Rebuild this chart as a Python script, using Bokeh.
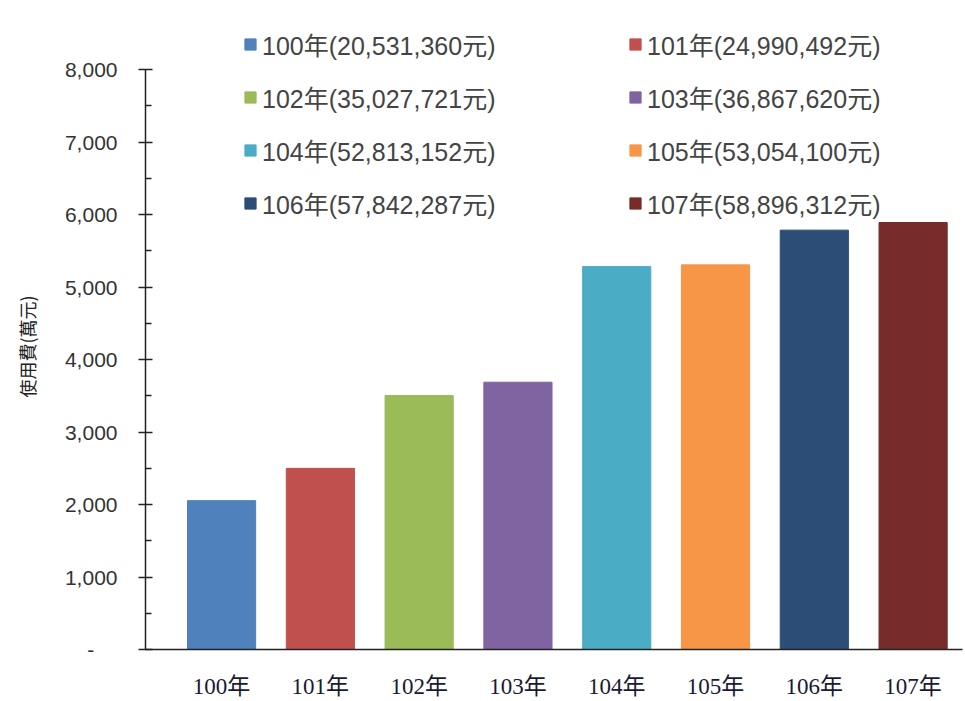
from bokeh.plotting import figure
from bokeh.models import (ColumnDataSource, Range1d, FixedTicker,
                          NumeralTickFormatter, Legend, LegendItem)
from bokeh.embed import file_html
from bokeh.resources import INLINE

years = ["100年", "101年", "102年", "103年", "104年", "105年", "106年", "107年"]
amounts_yuan = [20531360, 24990492, 35027721, 36867620, 52813152, 53054100, 57842287, 58896312]
amount_labels = ["20,531,360", "24,990,492", "35,027,721", "36,867,620",
                 "52,813,152", "53,054,100", "57,842,287", "58,896,312"]
colors = ["#4F81BD", "#C0504D", "#9BBB59", "#8064A2", "#4BACC6", "#F79646", "#2C4D75", "#772C2A"]
y_axis_title = "使用費(萬元)"
y_major_ticks = [0, 1000, 2000, 3000, 4000, 5000, 6000, 7000, 8000]
y_minor_ticks = [500, 1500, 2500, 3500, 4500, 5500, 6500, 7500]

values_wan = [a / 10000 for a in amounts_yuan]
idx = list(range(len(years)))

source = ColumnDataSource(dict(x=idx, top=values_wan, color=colors))

y_max = y_major_ticks[-1]
p = figure(width=965, height=701, output_backend="svg", toolbar_location=None,
           x_range=Range1d(-0.77, 7.5), y_range=Range1d(0, y_max + 607),
           min_border_left=145, min_border_right=3, min_border_top=25, min_border_bottom=52)
p.outline_line_color = None
p.xgrid.visible = False
p.ygrid.visible = False
p.background_fill_color = "white"
p.border_fill_color = "white"

r = p.vbar(x="x", top="top", width=0.69, bottom=0, color="color", source=source)

# y axis
ya = p.yaxis[0]
ya.ticker = FixedTicker(ticks=y_major_ticks, minor_ticks=y_minor_ticks)
ya.bounds = (0, y_max)
ya.formatter = NumeralTickFormatter(format="0,0")
ya.major_label_overrides = {0: "-\u2007\u2007"}
ya.major_tick_in = 7
ya.major_tick_out = 7
ya.minor_tick_in = 6
ya.minor_tick_out = 0
ya.axis_line_color = "#222222"
ya.axis_line_width = 1.5
ya.major_tick_line_color = "#222222"
ya.major_tick_line_width = 1.5
ya.minor_tick_line_color = "#222222"
ya.minor_tick_line_width = 1.5
ya.major_label_text_font = "Liberation Sans"
ya.major_label_text_font_size = "21px"
ya.major_label_text_color = "#333333"
ya.major_label_standoff = 21
ya.axis_label = y_axis_title + "\u3000"
ya.axis_label_text_font = "Noto Sans CJK TC"
ya.axis_label_text_font_size = "18px"
ya.axis_label_text_font_style = "normal"
ya.axis_label_text_color = "#222222"
ya.axis_label_standoff = 22

# x axis
xa = p.xaxis[0]
xa.ticker = FixedTicker(ticks=idx)
xa.major_label_overrides = {i: y for i, y in zip(idx, years)}
xa.major_tick_line_color = None
xa.minor_tick_line_color = None
xa.axis_line_color = "#222222"
xa.axis_line_width = 1.5
xa.major_label_text_font = "Liberation Serif, Noto Sans CJK TC"
xa.major_label_text_font_size = "23px"
xa.major_label_text_color = "#1a1a33"
xa.major_label_standoff = 18

# legends (two columns)
items = [LegendItem(label=f"{y}({a}元)", renderers=[r], index=i)
         for i, (y, a) in enumerate(zip(years, amount_labels))]

def make_legend(its, loc):
    lg = Legend(items=its, location=loc, orientation="vertical")
    lg.label_text_font = "Liberation Sans, Noto Sans CJK TC"
    lg.label_text_font_size = "25px"
    lg.label_text_color = "#444444"
    lg.glyph_width = 14
    lg.glyph_height = 14
    lg.label_height = 28
    lg.label_standoff = 5
    lg.spacing = 17
    lg.padding = 0
    lg.margin = 0
    lg.border_line_color = None
    lg.background_fill_alpha = 0
    return lg

left_items = items[0::2]
right_items = items[1::2]
p.add_layout(make_legend(left_items, (98, 428)))
p.add_layout(make_legend(right_items, (483, 428)))

open("out.html", "w").write(file_html(p, INLINE))
